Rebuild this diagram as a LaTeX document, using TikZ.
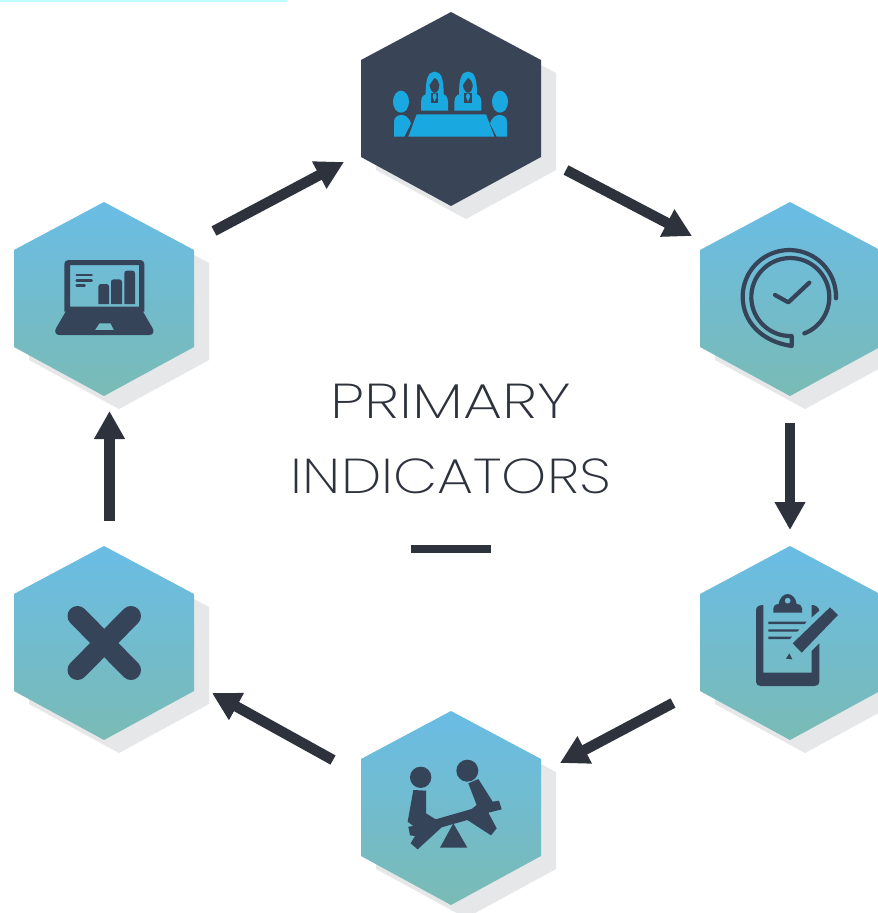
\documentclass[tikz,border=0pt]{standalone}
\usepackage{fontspec}
\newfontfamily\titlefont[UprightFont=* ExtraLight]{Poppins}
\usetikzlibrary{arrows.meta}
\definecolor{hexdark}{HTML}{394557}
\definecolor{iconblue}{HTML}{19A9E0}
\definecolor{icondark}{HTML}{36445A}
\definecolor{arrowdark}{HTML}{2D323D}
\definecolor{shadowgrey}{HTML}{E6E7E9}
\definecolor{gradtop}{HTML}{6ABCE5}
\definecolor{gradbot}{HTML}{79BBB5}
\definecolor{topline}{HTML}{BFFFFF}
\tikzset{
  hexoutline/.style={insert path={(0,-97) -- (90,-49) -- (90,48) -- (0,97) -- (-90,48) -- (-90,-49) -- cycle}},
  hexshadow/.style={fill=shadowgrey, hexoutline},
  hexgrad/.style={top color=gradtop, bottom color=gradbot, hexoutline},
  flow/.style={draw=arrowdark, line width=10.5pt, -{Triangle[length=28pt,width=29pt]}},
  station/.style={inner sep=0pt, minimum size=1pt},
  icon/.style={fill=icondark, draw=none},
  iconline/.style={draw=icondark, line cap=round, line join=round},
  meet/.style={fill=iconblue, draw=none},
  titletext/.style={font=\titlefont\fontsize{49}{49}\selectfont, text=arrowdark, inner sep=0pt, anchor=base},
  zoomframe/.style={x=0.33333pt, y=-0.33333pt}
}
\begin{document}
\begin{tikzpicture}[x=1pt,y=-1pt]
\useasboundingbox (0,0) rectangle (878,913);
\fill[white] (0,0) rectangle (878,913);
\fill[topline] (0,0) rectangle (287,1.6);

% shadows
\foreach \cx/\cy in {451/109,790/299,790/643,451/808,104/643,104/299}
  \path[shift={(\cx+15,\cy+13)}, hexshadow];
% hexagons
\path[shift={(451,109)}, fill=hexdark, hexoutline];
\foreach \cx/\cy in {790/299,790/643,451/808,104/643,104/299}
  \shade[shift={(\cx,\cy)}, hexgrad];

% named stations
\node[station] (meeting) at (451,109) {};
\node[station] (clock) at (790,299) {};
\node[station] (clipboard) at (790,643) {};
\node[station] (seesaw) at (451,808) {};
\node[station] (cross) at (104,643) {};
\node[station] (laptop) at (104,299) {};

% arrows
\coordinate (a1s) at (214,231); \coordinate (a1e) at (344,162);
\coordinate (a2s) at (566,170); \coordinate (a2e) at (692,236);
\coordinate (a3s) at (790,423); \coordinate (a3e) at (790,530);
\coordinate (a4s) at (673,703); \coordinate (a4e) at (560,763);
\coordinate (a5s) at (333,760); \coordinate (a5e) at (212,693);
\coordinate (a6s) at (109.5,521); \coordinate (a6e) at (109.5,411);
\draw[flow] (a1s) -- (a1e);
\draw[flow] (a2s) -- (a2e);
\draw[flow] (a3s) -- (a3e);
\draw[flow] (a4s) -- (a4e);
\draw[flow] (a5s) -- (a5e);
\draw[flow] (a6s) -- (a6e);

% centre title
\node[titletext] (title1) at (451,418) {\scalebox{1.27}[1]{PRIMARY}};
\node[titletext] (title2) at (451,493) {\scalebox{1.17}[1]{INDICATORS}};
\fill[arrowdark] (411,545) rectangle (491,553);

% meeting icon
\begin{scope}[shift={(385,65)}, zoomframe]
  \fill[meet] (48,110) ellipse [x radius=24, y radius=33];
  \fill[meet] (345,110) ellipse [x radius=24, y radius=33];
  \fill[meet] (27,215) -- (27,170) .. controls (27,155) and (40,150) .. (50,150) .. controls (62,150) and (72,158) .. (78,175) -- (58,215) -- cycle;
  \fill[meet] (366,215) -- (366,170) .. controls (366,155) and (353,150) .. (343,150) .. controls (331,150) and (321,158) .. (315,175) -- (335,215) -- cycle;
  \fill[meet] (95,148) -- (303,148) -- (328,215) -- (70,215) -- cycle;
  \foreach \dx in {0,100} {
    \begin{scope}[shift={(\dx,0)}]
      \fill[meet,even odd rule]
        (122,88) .. controls (122,40) and (130,20) .. (149,20) .. controls (168,20) and (176,40) .. (176,88)
        .. controls (186,92) and (189,100) .. (189,110) -- (189,137) -- (108,137) -- (108,110) .. controls (108,100) and (112,92) .. (122,88) -- cycle
        (149,38) .. controls (140,50) and (134,58) .. (133,62) .. controls (136,74) and (142,84) .. (149,84) .. controls (158,84) and (164,72) .. (163,58) .. controls (162,48) and (156,42) .. (149,38) -- cycle;
      \fill[hexdark] (138,84) -- (160,84) -- (160,113) -- (138,113) -- cycle;
      \fill[meet] (145,86) -- (153,86) -- (155,96) -- (149,110) -- (143,96) -- cycle;
    \end{scope}
  }
\end{scope}

% clock icon
\begin{scope}[shift={(720,230)}, zoomframe]
  \draw[iconline, line width=4.2pt]
    (348,205) arc[start angle=2, end angle=-180, radius=140]
    .. controls (68,275) and (125,335) .. (215,348) -- (215,318)
    arc[start angle=88, end angle=429, radius=117];
  \draw[iconline, line width=4.2pt] (165,195) -- (205,217) -- (268,158);
\end{scope}

% clipboard icon
\begin{scope}[shift={(730,580)}, zoomframe]
  \fill[icon] (100,75) .. controls (86,75) and (78,80) .. (78,92) -- (78,305) .. controls (78,314) and (84,318) .. (92,318)
     -- (254,318) .. controls (263,318) and (268,313) .. (268,305) -- (268,190) -- (245,213) -- (245,278) -- (100,278) -- cycle;
  \fill[icon] (245,75) .. controls (258,75) and (266,82) .. (268,92) -- (245,112) -- cycle;
  \fill[icon,even odd rule] (130,98) -- (130,85) .. controls (130,77) and (136,73) .. (146,72) .. controls (148,55) and (160,42) .. (173,42)
     .. controls (186,42) and (198,55) .. (200,72) .. controls (210,73) and (216,77) .. (216,85) -- (216,98) -- cycle
     (173,62) circle [radius=9];
  \fill[icon] (115,125) -- (230,125) -- (224,132) -- (115,132) -- cycle;
  \fill[icon] (115,148) -- (208,148) -- (202,155) -- (115,155) -- cycle;
  \fill[icon] (115,170) -- (186,170) -- (180,177) -- (115,177) -- cycle;
  \fill[icon] (188,190) -- (300,82) -- (324,105) -- (215,218) -- cycle;
  \fill[icon] (168,236) -- (178,220) -- (187,238) -- cycle;
\end{scope}

% seesaw icon
\begin{scope}[shift={(390,750)}, zoomframe]
  \fill[icon] (92,82) circle [radius=32];
  \fill[icon] (232,62) circle [radius=33];
  \fill[icon] (150,293) -- (232,293) -- (190,220) -- cycle;
  \fill[icon] (70,120) -- (108,122) -- (108,190) -- (137,208) -- (245,177) -- (260,165) -- (235,100) -- (265,87) -- (308,155)
     -- (327,152) -- (335,178) -- (295,188) -- (320,235) -- (303,256) -- (232,210) -- (155,232) -- (83,298) -- (62,280)
     -- (75,258) -- (60,256) -- (55,230) -- (70,228) -- (53,215) -- cycle;
\end{scope}

% cross icon
\draw[iconline, line width=20pt] (77.5,616) -- (131,670);
\draw[iconline, line width=20pt] (131,616) -- (77.5,670);

% laptop icon
\begin{scope}[shift={(40,250)}, zoomframe]
  \fill[icon,even odd rule] (73,42) .. controls (73,34) and (78,30) .. (86,30) -- (300,30) .. controls (308,30) and (313,34) .. (313,42) -- (313,185) -- (73,185) -- cycle
     (90,45) rectangle (297,170);
  \fill[icon,even odd rule] (78,183) -- (308,183) -- (338,235) .. controls (344,246) and (338,255) .. (328,255) -- (58,255) .. controls (48,255) and (42,246) .. (48,235) -- cycle
     (178,220) -- (212,220) -- (222,240) -- (165,240) -- cycle;
  \fill[icon] (175,162) -- (175,110) .. controls (175,105) and (178,102) .. (183,102) -- (199,102) .. controls (204,102) and (207,105) .. (207,110) -- (207,162) -- cycle;
  \fill[icon] (213,162) -- (213,96) .. controls (213,91) and (216,88) .. (221,88) -- (238,88) .. controls (243,88) and (246,91) .. (246,96) -- (246,162) -- cycle;
  \fill[icon] (253,162) -- (253,70) .. controls (253,65) and (256,62) .. (261,62) -- (277,62) .. controls (282,62) and (285,65) .. (285,70) -- (285,162) -- cycle;
  \draw[iconline, line width=2.4pt] (110,75) -- (155,75);
  \draw[iconline, line width=2.4pt] (110,91) -- (155,91);
  \draw[iconline, line width=2.4pt] (110,107) -- (134,107);
\end{scope}
\end{tikzpicture}
\end{document}
